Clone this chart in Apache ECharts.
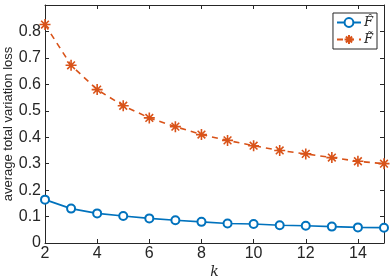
<!DOCTYPE html>
<html><head><meta charset="utf-8">
<script src="https://cdn.jsdelivr.net/npm/echarts@6/dist/echarts.min.js"></script>
<style>html,body{margin:0;padding:0;background:#fff}#c{width:390px;height:277px}</style>
</head><body><div id="c"></div>
<script>
var kValues = [2,3,4,5,6,7,8,9,10,11,12,13,14,15];
var fHat   = [0.164,0.130,0.112,0.102,0.093,0.086,0.080,0.074,0.072,0.067,0.065,0.062,0.059,0.058];
var fTilde = [0.826,0.672,0.580,0.519,0.473,0.440,0.410,0.388,0.368,0.350,0.337,0.323,0.309,0.300];
var seriesNames = ['F\u0302','F\u0303'];

var chart = echarts.init(document.getElementById('c'), null, {renderer:'canvas'});
var axisCol = '#262626';
var star = 'path://M0,-10L0,10M-10,0L10,0M-7,-7L7,7M-7,7L7,-7';
function pairs(v){ return kValues.map(function(k,i){return [k, v[i]];}); }
var baseX = {type:'value', min:2, max:15, interval:2,
  axisLine:{show:true,onZero:false,lineStyle:{color:axisCol,width:1}},
  axisTick:{show:true,inside:true,length:4,lineStyle:{color:axisCol}},
  splitLine:{show:false}};
var baseY = {type:'value', min:0, max:0.9, interval:0.1,
  axisLine:{show:true,onZero:false,lineStyle:{color:axisCol,width:1}},
  axisTick:{show:true,inside:true,length:4,lineStyle:{color:axisCol}},
  splitLine:{show:false}};
chart.setOption({
  animation:false,
  backgroundColor:'#fff',
  grid:{left:45,right:6,top:5,bottom:34,containLabel:false,outerBoundsMode:'none'},
  xAxis:[
    Object.assign({}, baseX, {position:'bottom',
      name:'k', nameLocation:'middle', nameGap:22, nameMoveOverlap:false,
      nameTextStyle:{fontFamily:'DejaVu Serif',fontStyle:'italic',fontSize:14,color:axisCol},
      axisLabel:{fontFamily:'Liberation Sans',fontSize:16,color:axisCol,margin:3,showMaxLabel:false,
        formatter:function(v){ return v>14.5 ? '' : String(v); }}}),
    Object.assign({}, baseX, {position:'top', axisLabel:{show:false}})
  ],
  yAxis:[
    Object.assign({}, baseY, {position:'left',
      name:'average total variation loss', nameLocation:'middle', nameGap:30, nameMoveOverlap:false,
      nameTextStyle:{fontFamily:'Liberation Sans',fontSize:13,color:axisCol},
      axisLabel:{fontFamily:'Liberation Sans',fontSize:16,color:axisCol,margin:4,
        formatter:function(v){ return v>0.85 ? '' : String(Math.round(v*10)/10); }}}),
    Object.assign({}, baseY, {position:'right', axisLabel:{show:false}})
  ],
  legend:{
    orient:'vertical', right:13, top:13,
    backgroundColor:'#fff', borderColor:axisCol, borderWidth:1,
    padding:[3,4,3,3], itemGap:4, itemWidth:24, itemHeight:11,
    textStyle:{fontFamily:'DejaVu Serif',fontStyle:'italic',fontSize:13,color:axisCol,padding:[0,0,0,-2]},
    data:seriesNames
  },
  series:[
    {name:seriesNames[0], type:'line', data:pairs(fHat), xAxisIndex:0, yAxisIndex:0,
     symbol:'emptyCircle', symbolSize:8, showAllSymbol:true,
     lineStyle:{color:'#0072BD',width:1.6},
     itemStyle:{color:'#0072BD',borderColor:'#0072BD',borderWidth:1.6}},
    {name:seriesNames[1], type:'line', data:pairs(fTilde), xAxisIndex:0, yAxisIndex:0,
     symbol:star, symbolSize:11, showAllSymbol:true,
     lineStyle:{color:'#D95319',width:1.6,type:[6,5]},
     itemStyle:{color:'#D95319',borderColor:'#D95319',borderWidth:1.6}}
  ]
});
</script></body></html>
